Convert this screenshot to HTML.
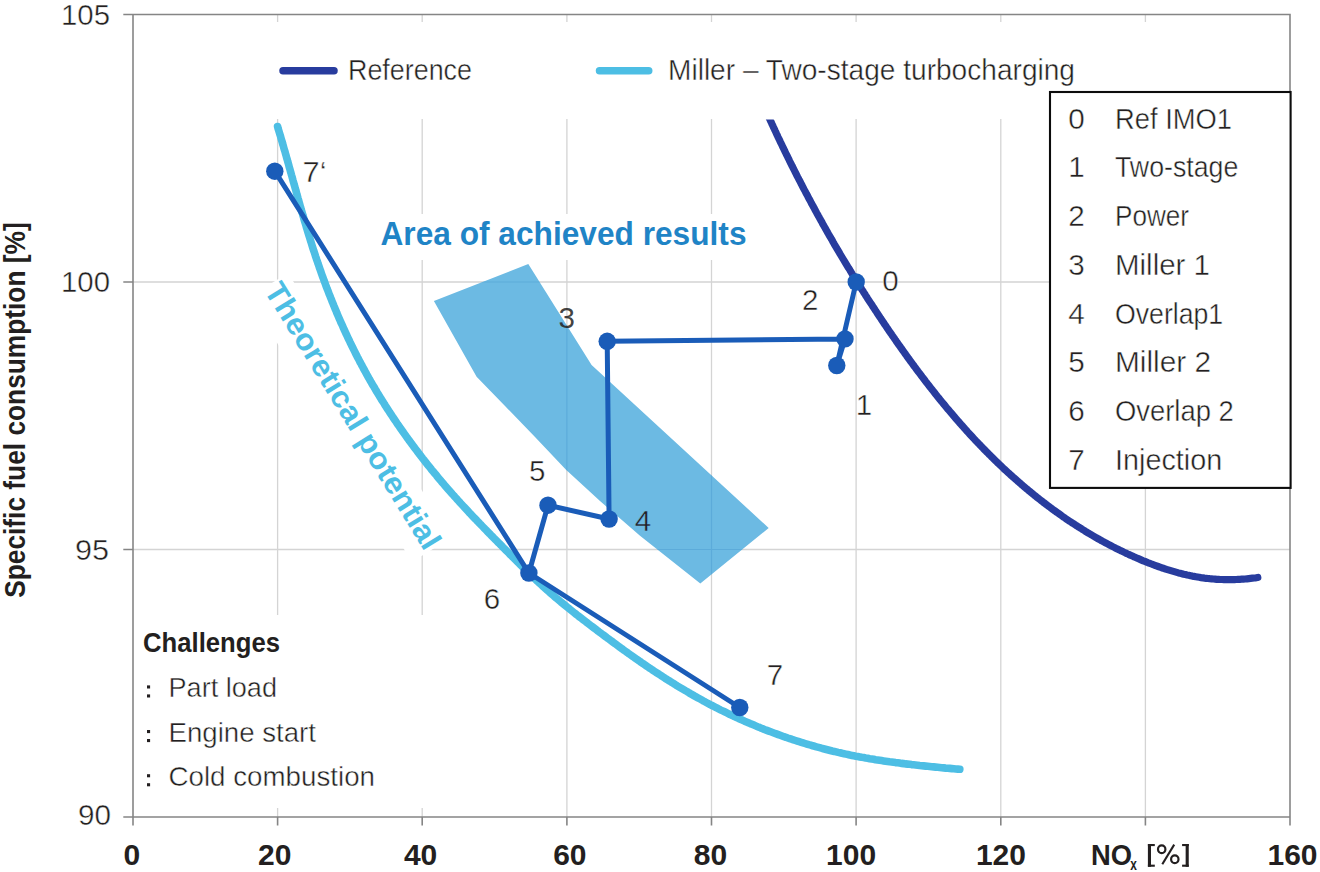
<!DOCTYPE html><html><head><meta charset="utf-8"><style>html,body{margin:0;padding:0;background:#fff;width:1320px;height:872px;overflow:hidden}svg{display:block}text{font-family:"Liberation Sans",sans-serif}</style></head><body>
<svg width="1320" height="872" viewBox="0 0 1320 872">
<rect width="1320" height="872" fill="#fff"/>
<path d="M277.6 14.5V817 M422.2 14.5V817 M566.9 14.5V817 M711.5 14.5V817 M856.1 14.5V817 M1000.8 14.5V817 M1145.4 14.5V817 M133 282.0H1290 M133 549.5H1290" stroke="#d4d4d4" stroke-width="1.3" fill="none"/>
<polygon points="433.9,301 528.3,264 591.6,365 768.7,528 700.3,583.5 640,535.8 600,501 566,469.7 535,437 505.5,406.5 476.6,376.7" fill="#6cbae3"/>
<clipPath id="pc"><polygon points="433.9,301 528.3,264 591.6,365 768.7,528 700.3,583.5 640,535.8 600,501 566,469.7 535,437 505.5,406.5 476.6,376.7"/></clipPath>
<path clip-path="url(#pc)" d="M566.9 250V600 M711.5 250V600 M400 549.5H800 M400 282.0H800" stroke="#3f8fc8" stroke-opacity="0.35" stroke-width="1.2" fill="none"/>
<rect x="136" y="22" width="1152" height="97" fill="#fff"/>
<rect x="375" y="214" width="378" height="46" fill="#fff"/>
<rect x="136" y="615" width="295" height="193" fill="#fff"/>
<g transform="translate(263.6,290.4) rotate(58.4)"><rect x="-2" y="-30" width="311" height="46" fill="#fff"/></g>
<path d="M123.3 14.5H1290V817 M133 14.5V825.6 M123.3 282.0H133 M123.3 549.5H133 M123.3 817H1290" stroke="#858585" stroke-width="1.6" fill="none"/>
<path d="M277.6 817V825.6 M422.2 817V825.6 M566.9 817V825.6 M711.5 817V825.6 M856.1 817V825.6 M1000.8 817V825.6 M1145.4 817V825.6 M1290.0 817V825.6" stroke="#858585" stroke-width="1.6" fill="none"/>
<clipPath id="rc"><rect x="0" y="119.4" width="1320" height="800"/></clipPath>
<path clip-path="url(#rc)" d="M766.5 111.9 L769.8 119.2 L770.5 120.8 L771.3 122.4 L772.0 124.1 L772.8 125.7 L773.5 127.3 L774.3 128.9 L775.0 130.5 L775.8 132.1 L776.5 133.7 L777.3 135.4 L778.0 137.0 L778.8 138.6 L779.6 140.2 L780.3 141.8 L781.1 143.4 L781.9 145.0 L782.6 146.6 L783.4 148.2 L784.2 149.8 L784.9 151.4 L785.7 153.0 L786.5 154.6 L787.3 156.2 L788.1 157.8 L788.9 159.4 L789.6 161.0 L790.4 162.6 L791.2 164.2 L792.0 165.8 L792.8 167.3 L793.6 168.9 L794.4 170.5 L795.2 172.1 L796.0 173.7 L796.8 175.3 L797.6 176.9 L798.4 178.4 L799.2 180.0 L800.1 181.6 L800.9 183.2 L801.7 184.7 L802.5 186.3 L803.3 187.9 L804.1 189.5 L805.0 191.0 L805.8 192.6 L806.6 194.2 L807.5 195.7 L808.3 197.3 L809.1 198.9 L810.0 200.4 L810.8 202.0 L811.6 203.6 L812.5 205.1 L813.3 206.7 L814.2 208.2 L815.0 209.8 L815.9 211.4 L816.7 212.9 L817.6 214.5 L818.4 216.0 L819.3 217.6 L820.1 219.1 L821.0 220.7 L821.9 222.2 L822.7 223.8 L823.6 225.3 L824.5 226.9 L825.3 228.4 L826.2 229.9 L827.1 231.5 L827.9 233.0 L828.8 234.6 L829.7 236.1 L830.6 237.6 L831.5 239.2 L832.4 240.7 L833.2 242.2 L834.1 243.8 L835.0 245.3 L835.9 246.8 L836.8 248.4 L837.7 249.9 L838.6 251.4 L839.5 252.9 L840.4 254.5 L841.3 256.0 L842.2 257.5 L843.1 259.0 L844.1 260.6 L845.0 262.1 L845.9 263.6 L846.8 265.1 L847.7 266.6 L848.6 268.1 L849.6 269.6 L850.5 271.2 L851.4 272.7 L852.3 274.2 L853.3 275.7 L854.2 277.2 L855.1 278.7 L856.1 280.2 L857.0 281.7 L857.9 283.2 L858.9 284.7 L859.8 286.2 L860.8 287.7 L861.7 289.2 L862.7 290.7 L863.6 292.2 L864.6 293.7 L865.5 295.2 L866.5 296.7 L867.4 298.2 L868.4 299.7 L869.4 301.2 L870.3 302.6 L871.3 304.1 L872.3 305.6 L873.2 307.1 L874.2 308.6 L875.2 310.1 L876.2 311.5 L877.1 313.0 L878.1 314.5 L879.1 316.0 L880.1 317.5 L881.1 318.9 L882.1 320.4 L883.1 321.9 L884.0 323.4 L885.0 324.8 L886.0 326.3 L887.0 327.8 L888.0 329.2 L889.0 330.7 L890.0 332.2 L891.0 333.6 L892.0 335.1 L893.1 336.6 L894.1 338.0 L895.1 339.5 L896.1 340.9 L897.1 342.4 L898.1 343.8 L899.2 345.3 L900.2 346.7 L901.2 348.2 L902.2 349.6 L903.3 351.1 L904.3 352.5 L905.3 354.0 L906.4 355.4 L907.4 356.9 L908.4 358.3 L909.5 359.7 L910.5 361.2 L911.6 362.6 L912.6 364.0 L913.7 365.5 L914.7 366.9 L915.8 368.3 L916.9 369.8 L917.9 371.2 L919.0 372.6 L920.1 374.0 L921.1 375.4 L922.2 376.9 L923.3 378.3 L924.4 379.7 L925.4 381.1 L926.5 382.5 L927.6 383.9 L928.7 385.3 L929.8 386.7 L930.9 388.1 L932.0 389.5 L933.1 390.9 L934.2 392.3 L935.3 393.7 L936.4 395.1 L937.5 396.5 L938.6 397.8 L939.7 399.2 L940.8 400.6 L942.0 402.0 L943.1 403.3 L944.2 404.7 L945.4 406.1 L946.5 407.5 L947.6 408.8 L948.8 410.2 L949.9 411.5 L951.1 412.9 L952.2 414.2 L953.4 415.6 L954.5 416.9 L955.7 418.3 L956.8 419.6 L958.0 421.0 L959.2 422.3 L960.3 423.6 L961.5 425.0 L962.7 426.3 L963.9 427.6 L965.0 428.9 L966.2 430.2 L967.4 431.6 L968.6 432.9 L969.8 434.2 L971.0 435.5 L972.2 436.8 L973.4 438.1 L974.6 439.4 L975.8 440.7 L977.1 442.0 L978.3 443.3 L979.5 444.5 L980.7 445.8 L982.0 447.1 L983.2 448.4 L984.4 449.6 L985.7 450.9 L986.9 452.2 L988.2 453.4 L989.4 454.7 L990.7 455.9 L991.9 457.2 L993.2 458.4 L994.5 459.7 L995.7 460.9 L997.0 462.1 L998.3 463.4 L999.6 464.6 L1000.9 465.8 L1002.1 467.0 L1003.4 468.3 L1004.7 469.5 L1006.0 470.7 L1007.3 471.9 L1008.6 473.1 L1010.0 474.3 L1011.3 475.5 L1012.6 476.7 L1013.9 477.8 L1015.3 479.0 L1016.6 480.2 L1017.9 481.4 L1019.3 482.5 L1020.6 483.7 L1021.9 484.9 L1023.3 486.0 L1024.7 487.2 L1026.0 488.3 L1027.4 489.4 L1028.7 490.6 L1030.1 491.7 L1031.5 492.8 L1032.9 494.0 L1034.2 495.1 L1035.6 496.2 L1037.0 497.3 L1038.4 498.4 L1039.8 499.5 L1041.2 500.6 L1042.6 501.7 L1044.0 502.8 L1045.4 503.8 L1046.8 504.9 L1048.2 506.0 L1049.7 507.0 L1051.1 508.1 L1052.5 509.2 L1054.0 510.2 L1055.4 511.2 L1056.8 512.3 L1058.3 513.3 L1059.7 514.3 L1061.2 515.4 L1062.6 516.4 L1064.1 517.4 L1065.5 518.4 L1067.0 519.4 L1068.5 520.4 L1070.0 521.4 L1071.4 522.4 L1072.9 523.3 L1074.4 524.3 L1075.9 525.3 L1077.4 526.2 L1078.9 527.2 L1080.4 528.1 L1081.9 529.1 L1083.4 530.0 L1084.9 530.9 L1086.4 531.9 L1087.9 532.8 L1089.4 533.7 L1091.0 534.6 L1092.5 535.5 L1094.0 536.4 L1095.6 537.3 L1097.1 538.2 L1098.6 539.0 L1100.2 539.9 L1101.7 540.8 L1103.3 541.6 L1104.8 542.5 L1106.4 543.3 L1108.0 544.1 L1109.5 545.0 L1111.1 545.8 L1112.7 546.6 L1114.3 547.4 L1115.8 548.2 L1117.4 549.0 L1119.0 549.8 L1120.6 550.6 L1122.2 551.3 L1123.8 552.1 L1125.4 552.9 L1127.0 553.6 L1128.6 554.4 L1130.2 555.1 L1131.8 555.8 L1133.5 556.6 L1135.1 557.3 L1136.7 558.0 L1138.4 558.7 L1140.0 559.4 L1141.6 560.1 L1143.3 560.8 L1144.9 561.4 L1146.6 562.1 L1148.2 562.8 L1149.9 563.4 L1151.5 564.0 L1153.2 564.7 L1154.9 565.3 L1156.5 565.9 L1158.2 566.5 L1159.9 567.1 L1161.6 567.7 L1163.2 568.2 L1164.9 568.8 L1166.6 569.4 L1168.3 569.9 L1170.0 570.4 L1171.7 570.9 L1173.4 571.4 L1175.1 571.9 L1176.8 572.4 L1178.5 572.9 L1180.2 573.3 L1181.9 573.7 L1183.7 574.2 L1185.4 574.6 L1187.1 575.0 L1188.8 575.3 L1190.6 575.7 L1192.3 576.1 L1194.0 576.4 L1195.8 576.7 L1197.5 577.0 L1199.2 577.3 L1201.0 577.6 L1202.7 577.8 L1204.5 578.1 L1206.2 578.3 L1208.0 578.5 L1209.7 578.7 L1211.5 578.8 L1213.3 579.0 L1215.0 579.1 L1216.8 579.3 L1218.6 579.4 L1220.3 579.5 L1222.1 579.5 L1223.9 579.6 L1225.6 579.6 L1227.4 579.6 L1229.2 579.7 L1231.0 579.6 L1232.7 579.6 L1234.5 579.6 L1236.3 579.5 L1238.1 579.4 L1239.9 579.3 L1241.7 579.2 L1243.4 579.1 L1245.2 579.0 L1247.0 578.8 L1248.8 578.6 L1250.6 578.4 L1252.4 578.2 L1254.2 578.0 L1256.0 577.8 L1257.8 577.5" stroke="#283c9e" stroke-width="7.2" fill="none" stroke-linecap="round" stroke-linejoin="round"/>
<path d="M277.6 126.5 L278.1 128.5 L278.7 130.4 L279.3 132.3 L279.9 134.3 L280.5 136.2 L281.0 138.2 L281.6 140.1 L282.2 142.0 L282.7 144.0 L283.3 145.9 L283.8 147.9 L284.4 149.8 L285.0 151.7 L285.5 153.7 L286.1 155.6 L286.6 157.6 L287.2 159.5 L287.7 161.4 L288.3 163.4 L288.8 165.3 L289.3 167.3 L289.9 169.2 L290.4 171.1 L291.0 173.1 L291.5 175.0 L292.1 177.0 L292.6 178.9 L293.1 180.8 L293.7 182.8 L294.2 184.7 L294.8 186.7 L295.3 188.6 L295.9 190.5 L296.4 192.5 L296.9 194.4 L297.5 196.4 L298.0 198.3 L298.6 200.2 L299.1 202.2 L299.7 204.1 L300.2 206.1 L300.8 208.0 L301.3 209.9 L301.9 211.9 L302.5 213.8 L303.0 215.7 L303.6 217.7 L304.1 219.6 L304.7 221.5 L305.3 223.5 L305.9 225.4 L306.4 227.3 L307.0 229.2 L307.6 231.2 L308.2 233.1 L308.8 235.0 L309.4 237.0 L310.0 238.9 L310.6 240.8 L311.2 242.7 L311.8 244.6 L312.4 246.6 L313.0 248.5 L313.6 250.4 L314.3 252.3 L314.9 254.2 L315.5 256.2 L316.2 258.1 L316.8 260.0 L317.5 261.9 L318.1 263.8 L318.8 265.7 L319.4 267.6 L320.1 269.5 L320.8 271.4 L321.4 273.3 L322.1 275.2 L322.8 277.1 L323.5 279.0 L324.2 280.9 L324.9 282.8 L325.6 284.7 L326.3 286.6 L327.0 288.5 L327.8 290.4 L328.5 292.3 L329.2 294.2 L330.0 296.0 L330.7 297.9 L331.5 299.8 L332.2 301.7 L333.0 303.5 L333.7 305.4 L334.5 307.3 L335.3 309.2 L336.1 311.0 L336.8 312.9 L337.6 314.7 L338.4 316.6 L339.2 318.5 L340.0 320.3 L340.8 322.2 L341.7 324.0 L342.5 325.8 L343.3 327.7 L344.1 329.5 L345.0 331.4 L345.8 333.2 L346.7 335.0 L347.5 336.9 L348.4 338.7 L349.3 340.5 L350.1 342.3 L351.0 344.2 L351.9 346.0 L352.8 347.8 L353.7 349.6 L354.6 351.4 L355.5 353.2 L356.4 355.0 L357.3 356.8 L358.3 358.6 L359.2 360.4 L360.1 362.2 L361.1 363.9 L362.0 365.7 L363.0 367.5 L363.9 369.3 L364.9 371.0 L365.9 372.8 L366.8 374.6 L367.8 376.3 L368.8 378.1 L369.8 379.8 L370.8 381.6 L371.8 383.3 L372.8 385.1 L373.9 386.8 L374.9 388.5 L375.9 390.3 L376.9 392.0 L378.0 393.7 L379.0 395.4 L380.1 397.2 L381.1 398.9 L382.2 400.6 L383.3 402.3 L384.4 404.0 L385.4 405.7 L386.5 407.4 L387.6 409.1 L388.7 410.8 L389.8 412.5 L390.9 414.1 L392.0 415.8 L393.1 417.5 L394.3 419.2 L395.4 420.8 L396.5 422.5 L397.6 424.2 L398.8 425.8 L399.9 427.5 L401.1 429.1 L402.2 430.8 L403.4 432.4 L404.6 434.1 L405.7 435.7 L406.9 437.4 L408.1 439.0 L409.3 440.6 L410.5 442.2 L411.7 443.9 L412.9 445.5 L414.1 447.1 L415.3 448.7 L416.5 450.3 L417.7 451.9 L418.9 453.5 L420.2 455.1 L421.4 456.7 L422.6 458.3 L423.9 459.9 L425.1 461.5 L426.4 463.1 L427.6 464.7 L428.9 466.2 L430.2 467.8 L431.4 469.4 L432.7 470.9 L434.0 472.5 L435.3 474.1 L436.6 475.6 L437.8 477.2 L439.1 478.7 L440.4 480.2 L441.7 481.8 L443.1 483.3 L444.4 484.9 L445.7 486.4 L447.0 487.9 L448.3 489.4 L449.7 491.0 L451.0 492.5 L452.3 494.0 L453.7 495.5 L455.0 497.0 L456.4 498.5 L457.7 500.0 L459.1 501.5 L460.4 503.0 L461.8 504.5 L463.2 506.0 L464.5 507.4 L465.9 508.9 L467.3 510.4 L468.7 511.9 L470.0 513.4 L471.4 514.8 L472.8 516.3 L474.2 517.8 L475.6 519.2 L477.0 520.7 L478.4 522.1 L479.8 523.6 L481.2 525.0 L482.6 526.5 L484.0 528.0 L485.4 529.4 L486.8 530.8 L488.2 532.3 L489.6 533.7 L491.0 535.2 L492.5 536.6 L493.9 538.1 L495.3 539.5 L496.7 540.9 L498.1 542.4 L499.6 543.8 L501.0 545.2 L502.4 546.7 L503.8 548.1 L505.2 549.5 L506.7 551.0 L508.1 552.4 L509.5 553.8 L510.9 555.3 L512.4 556.7 L513.8 558.1 L515.2 559.5 L516.6 561.0 L518.1 562.4 L519.5 563.8 L520.9 565.2 L522.4 566.6 L523.8 568.1 L525.2 569.5 L526.7 570.9 L528.1 572.3 L529.6 573.7 L531.0 575.1 L532.5 576.5 L533.9 577.9 L535.4 579.3 L536.8 580.6 L538.3 582.0 L539.8 583.4 L541.3 584.7 L542.7 586.1 L544.2 587.5 L545.7 588.8 L547.2 590.2 L548.7 591.5 L550.2 592.8 L551.7 594.1 L553.3 595.5 L554.8 596.8 L556.3 598.1 L557.9 599.4 L559.4 600.7 L560.9 602.0 L562.5 603.3 L564.0 604.5 L565.6 605.8 L567.2 607.1 L568.7 608.3 L570.3 609.6 L571.9 610.9 L573.4 612.1 L575.0 613.4 L576.6 614.6 L578.2 615.9 L579.8 617.1 L581.4 618.3 L583.0 619.6 L584.6 620.8 L586.2 622.0 L587.8 623.3 L589.4 624.5 L591.0 625.7 L592.6 626.9 L594.2 628.1 L595.8 629.3 L597.4 630.6 L599.0 631.8 L600.7 633.0 L602.3 634.2 L603.9 635.4 L605.5 636.6 L607.1 637.8 L608.8 639.0 L610.4 640.2 L612.0 641.4 L613.6 642.6 L615.3 643.8 L616.9 645.0 L618.5 646.2 L620.1 647.4 L621.8 648.6 L623.4 649.8 L625.1 651.0 L626.7 652.1 L628.3 653.3 L630.0 654.5 L631.6 655.6 L633.3 656.8 L634.9 658.0 L636.6 659.1 L638.2 660.3 L639.9 661.4 L641.5 662.6 L643.2 663.7 L644.9 664.9 L646.5 666.0 L648.2 667.1 L649.9 668.3 L651.6 669.4 L653.2 670.5 L654.9 671.6 L656.6 672.7 L658.3 673.8 L660.0 674.9 L661.7 676.0 L663.4 677.1 L665.0 678.2 L666.7 679.3 L668.4 680.4 L670.2 681.4 L671.9 682.5 L673.6 683.5 L675.3 684.6 L677.0 685.7 L678.7 686.7 L680.4 687.7 L682.2 688.8 L683.9 689.8 L685.6 690.8 L687.4 691.8 L689.1 692.9 L690.8 693.9 L692.6 694.9 L694.3 695.9 L696.1 696.9 L697.8 697.8 L699.6 698.8 L701.4 699.8 L703.1 700.8 L704.9 701.7 L706.7 702.7 L708.4 703.6 L710.2 704.6 L712.0 705.5 L713.8 706.4 L715.6 707.3 L717.3 708.2 L719.1 709.2 L720.9 710.1 L722.7 710.9 L724.6 711.8 L726.4 712.7 L728.2 713.6 L730.0 714.5 L731.8 715.3 L733.6 716.2 L735.5 717.0 L737.3 717.9 L739.1 718.7 L740.9 719.5 L742.8 720.3 L744.6 721.2 L746.5 722.0 L748.3 722.8 L750.2 723.6 L752.0 724.3 L753.9 725.1 L755.7 725.9 L757.6 726.7 L759.5 727.4 L761.3 728.2 L763.2 728.9 L765.1 729.7 L766.9 730.4 L768.8 731.1 L770.7 731.8 L772.6 732.5 L774.5 733.2 L776.4 733.9 L778.3 734.6 L780.2 735.3 L782.1 736.0 L784.0 736.7 L785.9 737.3 L787.8 738.0 L789.7 738.6 L791.6 739.2 L793.5 739.9 L795.4 740.5 L797.3 741.1 L799.2 741.7 L801.2 742.3 L803.1 742.9 L805.0 743.5 L806.9 744.1 L808.9 744.7 L810.8 745.2 L812.7 745.8 L814.7 746.3 L816.6 746.9 L818.6 747.4 L820.5 747.9 L822.4 748.5 L824.4 749.0 L826.3 749.5 L828.3 750.0 L830.2 750.5 L832.2 751.0 L834.2 751.4 L836.1 751.9 L838.1 752.4 L840.0 752.8 L842.0 753.3 L844.0 753.7 L845.9 754.1 L847.9 754.5 L849.9 755.0 L851.9 755.4 L853.8 755.8 L855.8 756.2 L857.8 756.5 L859.8 756.9 L861.7 757.3 L863.7 757.6 L865.7 758.0 L867.7 758.3 L869.7 758.7 L871.7 759.0 L873.7 759.3 L875.6 759.7 L877.6 760.0 L879.6 760.3 L881.6 760.6 L883.6 760.9 L885.6 761.2 L887.6 761.5 L889.6 761.8 L891.6 762.0 L893.6 762.3 L895.6 762.6 L897.6 762.8 L899.6 763.1 L901.6 763.4 L903.6 763.6 L905.6 763.9 L907.6 764.1 L909.6 764.3 L911.6 764.6 L913.6 764.8 L915.6 765.0 L917.6 765.2 L919.7 765.5 L921.7 765.7 L923.7 765.9 L925.7 766.1 L927.7 766.3 L929.7 766.5 L931.7 766.7 L933.7 766.9 L935.7 767.1 L937.7 767.3 L939.7 767.5 L941.7 767.7 L943.7 767.9 L945.7 768.1 L947.8 768.2 L949.8 768.4 L951.8 768.6 L953.8 768.8 L955.8 769.0 L957.8 769.1 L959.8 769.3" stroke="#4dbee4" stroke-width="7.6" fill="none" stroke-linecap="round" stroke-linejoin="round"/>
<path d="M856.2 282 L836.8 365.5 L845 338.9 L607.2 341.3 L609.1 519 L548 505.2 L528.9 573 L739.8 707.5 M528.9 573 L274.8 171.2" stroke="#1a5cb8" stroke-width="5" fill="none" stroke-linejoin="round"/>
<circle cx="856.2" cy="282" r="8.7" fill="#1a5cb8"/>
<circle cx="836.8" cy="365.5" r="8.7" fill="#1a5cb8"/>
<circle cx="845" cy="338.9" r="8.7" fill="#1a5cb8"/>
<circle cx="607.2" cy="341.3" r="8.7" fill="#1a5cb8"/>
<circle cx="609.1" cy="519" r="8.7" fill="#1a5cb8"/>
<circle cx="548" cy="505.2" r="8.7" fill="#1a5cb8"/>
<circle cx="528.9" cy="573" r="8.7" fill="#1a5cb8"/>
<circle cx="739.8" cy="707.5" r="8.7" fill="#1a5cb8"/>
<circle cx="274.8" cy="171.2" r="8.7" fill="#1a5cb8"/>
<text x="61" y="24.5" font-size="30" font-weight="normal" fill="#231f20" text-anchor="start" textLength="49" lengthAdjust="spacingAndGlyphs" stroke="#fff" stroke-width="0.45">105</text>
<text x="61" y="291.8" font-size="30" font-weight="normal" fill="#231f20" text-anchor="start" textLength="49" lengthAdjust="spacingAndGlyphs" stroke="#fff" stroke-width="0.45">100</text>
<text x="75" y="559.5" font-size="30" font-weight="normal" fill="#231f20" text-anchor="start" textLength="34" lengthAdjust="spacingAndGlyphs" stroke="#fff" stroke-width="0.45">95</text>
<text x="78" y="824.5" font-size="30" font-weight="normal" fill="#231f20" text-anchor="start" textLength="33" lengthAdjust="spacingAndGlyphs" stroke="#fff" stroke-width="0.45">90</text>
<text x="131.95" y="864.8" font-size="30" font-weight="bold" fill="#231f20" text-anchor="middle">0</text>
<text x="274.70000000000005" y="864.8" font-size="30" font-weight="bold" fill="#231f20" text-anchor="middle">20</text>
<text x="420.6" y="864.8" font-size="30" font-weight="bold" fill="#231f20" text-anchor="middle">40</text>
<text x="569.85" y="864.8" font-size="30" font-weight="bold" fill="#231f20" text-anchor="middle">60</text>
<text x="710.55" y="864.8" font-size="30" font-weight="bold" fill="#231f20" text-anchor="middle">80</text>
<text x="851.15" y="864.8" font-size="30" font-weight="bold" fill="#231f20" text-anchor="middle">100</text>
<text x="1000.95" y="864.8" font-size="30" font-weight="bold" fill="#231f20" text-anchor="middle">120</text>
<text x="1292.5" y="864.8" font-size="30" font-weight="bold" fill="#231f20" text-anchor="middle">160</text>
<text x="1091" y="865" font-size="30.3" font-weight="bold" fill="#231f20" text-anchor="start" textLength="41" lengthAdjust="spacingAndGlyphs">NO</text>
<text x="1130.2" y="869.5" font-size="16.3" font-weight="bold" fill="#231f20" text-anchor="start" textLength="6.6" lengthAdjust="spacingAndGlyphs">x</text>
<g fill="#231f20"><rect x="1147.9" y="844" width="3.1" height="22.75"/><rect x="1147.9" y="844" width="6.9" height="2.1"/><rect x="1147.9" y="864.65" width="6.9" height="2.1"/><rect x="1185.65" y="844" width="3.1" height="22.75"/><rect x="1182.1" y="844" width="6.65" height="2.1"/><rect x="1182.1" y="864.65" width="6.65" height="2.1"/></g>
<g stroke="#231f20" fill="none" stroke-width="2.2"><ellipse cx="1161.7" cy="849.3" rx="3.7" ry="3.9"/><ellipse cx="1174.8" cy="859.3" rx="3.7" ry="3.9"/><path d="M1174.2 844.6L1162.3 864.2" stroke-width="2.1"/></g>
<path d="M283 70.8H334" stroke="#283c9e" stroke-width="7.5" stroke-linecap="round"/>
<path d="M599.5 70.8H648.7" stroke="#4dbee4" stroke-width="7.5" stroke-linecap="round"/>
<text x="348" y="80" font-size="29.8" font-weight="normal" fill="#231f20" text-anchor="start" textLength="124" lengthAdjust="spacingAndGlyphs" stroke="#fff" stroke-width="0.45">Reference</text>
<text x="668" y="80" font-size="29.8" font-weight="normal" fill="#231f20" text-anchor="start" textLength="407" lengthAdjust="spacingAndGlyphs" stroke="#fff" stroke-width="0.45">Miller – Two-stage turbocharging</text>
<rect x="1050" y="92" width="240.6" height="395.9" fill="#fff" stroke="#0c0c0c" stroke-width="2.1"/>
<text x="1068.3" y="128.7" font-size="30" font-weight="normal" fill="#231f20" text-anchor="start" textLength="16.5" lengthAdjust="spacingAndGlyphs" stroke="#fff" stroke-width="0.45">0</text>
<text x="1115" y="128.7" font-size="30" font-weight="normal" fill="#231f20" text-anchor="start" textLength="117" lengthAdjust="spacingAndGlyphs" stroke="#fff" stroke-width="0.45">Ref IMO1</text>
<text x="1068.3" y="177.45" font-size="30" font-weight="normal" fill="#231f20" text-anchor="start" textLength="16.5" lengthAdjust="spacingAndGlyphs" stroke="#fff" stroke-width="0.45">1</text>
<text x="1115" y="177.45" font-size="30" font-weight="normal" fill="#231f20" text-anchor="start" textLength="123.3" lengthAdjust="spacingAndGlyphs" stroke="#fff" stroke-width="0.45">Two-stage</text>
<text x="1068.3" y="226.2" font-size="30" font-weight="normal" fill="#231f20" text-anchor="start" textLength="16.5" lengthAdjust="spacingAndGlyphs" stroke="#fff" stroke-width="0.45">2</text>
<text x="1115" y="226.2" font-size="30" font-weight="normal" fill="#231f20" text-anchor="start" textLength="74" lengthAdjust="spacingAndGlyphs" stroke="#fff" stroke-width="0.45">Power</text>
<text x="1068.3" y="274.95" font-size="30" font-weight="normal" fill="#231f20" text-anchor="start" textLength="16.5" lengthAdjust="spacingAndGlyphs" stroke="#fff" stroke-width="0.45">3</text>
<text x="1115" y="274.95" font-size="30" font-weight="normal" fill="#231f20" text-anchor="start" textLength="95" lengthAdjust="spacingAndGlyphs" stroke="#fff" stroke-width="0.45">Miller 1</text>
<text x="1068.3" y="323.7" font-size="30" font-weight="normal" fill="#231f20" text-anchor="start" textLength="16.5" lengthAdjust="spacingAndGlyphs" stroke="#fff" stroke-width="0.45">4</text>
<text x="1115" y="323.7" font-size="30" font-weight="normal" fill="#231f20" text-anchor="start" textLength="108.2" lengthAdjust="spacingAndGlyphs" stroke="#fff" stroke-width="0.45">Overlap1</text>
<text x="1068.3" y="372.45" font-size="30" font-weight="normal" fill="#231f20" text-anchor="start" textLength="16.5" lengthAdjust="spacingAndGlyphs" stroke="#fff" stroke-width="0.45">5</text>
<text x="1115" y="372.45" font-size="30" font-weight="normal" fill="#231f20" text-anchor="start" textLength="96.1" lengthAdjust="spacingAndGlyphs" stroke="#fff" stroke-width="0.45">Miller 2</text>
<text x="1068.3" y="421.2" font-size="30" font-weight="normal" fill="#231f20" text-anchor="start" textLength="16.5" lengthAdjust="spacingAndGlyphs" stroke="#fff" stroke-width="0.45">6</text>
<text x="1115" y="421.2" font-size="30" font-weight="normal" fill="#231f20" text-anchor="start" textLength="118.8" lengthAdjust="spacingAndGlyphs" stroke="#fff" stroke-width="0.45">Overlap 2</text>
<text x="1068.3" y="469.95" font-size="30" font-weight="normal" fill="#231f20" text-anchor="start" textLength="16.5" lengthAdjust="spacingAndGlyphs" stroke="#fff" stroke-width="0.45">7</text>
<text x="1115" y="469.95" font-size="30" font-weight="normal" fill="#231f20" text-anchor="start" textLength="107.2" lengthAdjust="spacingAndGlyphs" stroke="#fff" stroke-width="0.45">Injection</text>
<text x="143" y="652" font-size="27.5" font-weight="bold" fill="#231f20" text-anchor="start" textLength="137" lengthAdjust="spacingAndGlyphs">Challenges</text>
<rect x="147" y="685.4" width="3.1" height="3.1" fill="#231f20"/><rect x="147" y="694.4" width="3.1" height="3.1" fill="#231f20"/>
<text x="168.5" y="697" font-size="27.5" font-weight="normal" fill="#231f20" text-anchor="start" textLength="108.5" lengthAdjust="spacingAndGlyphs" stroke="#fff" stroke-width="0.45">Part load</text>
<rect x="147" y="730.0" width="3.1" height="3.1" fill="#231f20"/><rect x="147" y="739.0" width="3.1" height="3.1" fill="#231f20"/>
<text x="168.5" y="741.6" font-size="27.5" font-weight="normal" fill="#231f20" text-anchor="start" textLength="147.5" lengthAdjust="spacingAndGlyphs" stroke="#fff" stroke-width="0.45">Engine start</text>
<rect x="147" y="774.2" width="3.1" height="3.1" fill="#231f20"/><rect x="147" y="783.2" width="3.1" height="3.1" fill="#231f20"/>
<text x="168.5" y="785.8" font-size="27.5" font-weight="normal" fill="#231f20" text-anchor="start" textLength="206.5" lengthAdjust="spacingAndGlyphs" stroke="#fff" stroke-width="0.45">Cold combustion</text>
<text x="380.5" y="244.8" font-size="33" font-weight="bold" fill="#1f84c6" text-anchor="start" textLength="366" lengthAdjust="spacingAndGlyphs">Area of achieved results</text>
<text x="890.45" y="291.2" font-size="29.5" font-weight="normal" fill="#231f20" text-anchor="middle" stroke="#fff" stroke-width="0.45">0</text>
<text x="863.8499999999999" y="415" font-size="29.5" font-weight="normal" fill="#231f20" text-anchor="middle" stroke="#fff" stroke-width="0.45">1</text>
<text x="810.15" y="309.5" font-size="29.5" font-weight="normal" fill="#231f20" text-anchor="middle" stroke="#fff" stroke-width="0.45">2</text>
<text x="566.8" y="327.7" font-size="29.5" font-weight="normal" fill="#231f20" text-anchor="middle" fill-opacity="0.85">3</text>
<text x="642.9" y="530.8" font-size="29.5" font-weight="normal" fill="#231f20" text-anchor="middle" stroke="#6cbae3" stroke-width="0.45">4</text>
<text x="537.3" y="480.6" font-size="29.5" font-weight="normal" fill="#231f20" text-anchor="middle" stroke="#fff" stroke-width="0.45">5</text>
<text x="491.85" y="608.5" font-size="29.5" font-weight="normal" fill="#231f20" text-anchor="middle" stroke="#fff" stroke-width="0.45">6</text>
<text x="775.0" y="685" font-size="29.5" font-weight="normal" fill="#231f20" text-anchor="middle" stroke="#fff" stroke-width="0.45">7</text>
<text x="302.5" y="181.7" font-size="29.5" font-weight="normal" fill="#231f20" text-anchor="start" textLength="24" lengthAdjust="spacingAndGlyphs" stroke="#fff" stroke-width="0.45">7‘</text>
<g transform="translate(263.6,290.4) rotate(58.4)"><text x="0" y="0" font-size="30.5" font-weight="bold" fill="#4dbee4" text-anchor="start" textLength="307" lengthAdjust="spacingAndGlyphs">Theoretical potential</text></g>
<g transform="translate(25.3,597.8) rotate(-90)"><text x="0" y="0" font-size="29" font-weight="bold" fill="#231f20" text-anchor="start" textLength="375.5" lengthAdjust="spacingAndGlyphs">Specific fuel consumption [%]</text></g>
</svg></body></html>
